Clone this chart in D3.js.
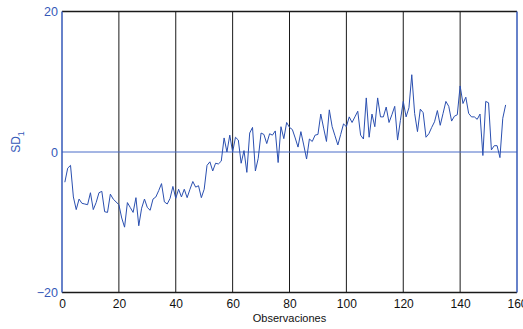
<!DOCTYPE html>
<html><head><meta charset="utf-8">
<script src="https://cdn.jsdelivr.net/npm/d3@7"></script>
<style>body{margin:0;background:#fff}svg{display:block}</style>
</head><body>
<script>
const xTicks = [0,20,40,60,80,100,120,140,160];
const yTicks = [-20,0,20];
const gridX = [20,40,60,80,100,120,140];
const values = [
-4.3,-2.3,-1.9,-6.4,-8.2,-6.7,-7.3,-7.4,-7.5,-5.8,
-8.2,-7.2,-5.8,-5.6,-8.5,-8.6,-6.0,-6.7,-7.1,-7.5,
-9.4,-10.7,-7.2,-7.9,-8.6,-6.5,-10.5,-8.0,-6.7,-7.9,
-8.3,-6.7,-6.4,-5.5,-4.5,-7.1,-7.4,-6.6,-4.9,-6.6,
-5.3,-6.4,-5.3,-6.5,-5.3,-4.2,-5.0,-4.8,-6.5,-5.3,
-1.9,-1.4,-2.7,-1.6,-1.7,-1.3,2.0,0.0,2.4,0.0,
2.1,1.7,-1.6,0.2,-2.9,2.7,3.5,-2.7,-0.9,2.7,
2.5,1.2,2.6,2.4,3.0,-1.5,3.6,1.9,4.2,3.5,
3.2,2.0,0.7,2.9,1.0,-1.0,1.85,1.5,2.4,2.5,
5.4,3.4,1.5,6.0,3.6,2.3,1.0,2.5,4.0,3.6,
5.0,4.2,5.0,5.8,2.4,1.85,7.7,2.1,5.4,3.6,
7.7,5.0,5.0,6.4,4.2,5.3,6.5,1.7,4.5,7.2,
5.0,6.3,11.0,5.5,2.9,6.1,5.6,2.1,2.6,3.5,
4.3,5.9,3.8,5.5,7.2,6.5,4.4,5.1,5.3,9.4,
6.9,7.8,5.5,5.0,5.0,4.65,5.4,-0.5,7.2,7.0,
0.3,0.9,0.9,-0.8,4.8,6.7
];
const obs = values.map((v,i)=>i+1);

const W=523,H=329;
const L=62,R=517,T=11.5,B=292.5;
const blue="#2a4fb0", axisBlue="#3558b8", dark="#1a1a1a";
const x=d3.scaleLinear().domain([0,160]).range([L,R]);
const y=d3.scaleLinear().domain([-20,20]).range([B,T]);

const svg=d3.select("body").append("svg").attr("width",W).attr("height",H)
  .style("font-family","'Liberation Sans', Arial, sans-serif");

svg.append("g").selectAll("line").data(gridX).join("line")
  .attr("x1",d=>x(d)).attr("x2",d=>x(d)).attr("y1",T).attr("y2",B)
  .attr("stroke",dark).attr("stroke-width",1);

svg.append("line").attr("x1",L).attr("x2",R).attr("y1",y(0)).attr("y2",y(0))
  .attr("stroke","#4a6cc8").attr("stroke-width",1);

svg.append("path").datum(values)
  .attr("d",d3.line().x((d,i)=>x(obs[i])).y(d=>y(d)))
  .attr("fill","none").attr("stroke",blue).attr("stroke-width",1);

svg.append("line").attr("x1",L).attr("x2",R).attr("y1",T).attr("y2",T).attr("stroke",dark).attr("stroke-width",1.5);
svg.append("line").attr("x1",L).attr("x2",R).attr("y1",B).attr("y2",B).attr("stroke",dark).attr("stroke-width",1.5);
svg.append("line").attr("x1",L).attr("x2",L).attr("y1",T).attr("y2",B).attr("stroke",axisBlue).attr("stroke-width",1.5);
svg.append("line").attr("x1",R).attr("x2",R).attr("y1",T).attr("y2",B).attr("stroke",axisBlue).attr("stroke-width",1.5);

const xa=d3.axisBottom(x).tickValues(xTicks).tickSize(0).tickPadding(7);
const gx=svg.append("g").attr("transform",`translate(0,${B})`).call(xa);
gx.select(".domain").remove();
gx.selectAll("text").attr("fill","#111").style("font-size","12px").style("font-family","'Liberation Sans', Arial, sans-serif");

const ya=d3.axisLeft(y).tickValues(yTicks).tickSize(0).tickPadding(4);
const gy=svg.append("g").attr("transform",`translate(${L},0)`).call(ya);
gy.select(".domain").remove();
gy.selectAll("text").attr("fill",axisBlue).style("font-size","12.5px").style("font-family","'Liberation Sans', Arial, sans-serif");

svg.append("text").attr("x",(L+R)/2).attr("y",322).attr("text-anchor","middle")
  .attr("fill","#111").style("font-size","11px").text("Observaciones");

const yl=svg.append("text").attr("transform",`translate(20,142) rotate(-90)`)
  .attr("text-anchor","middle").attr("fill",axisBlue).style("font-size","12px");
yl.append("tspan").text("SD");
yl.append("tspan").attr("dy",4).style("font-size","9px").text("1");
</script>
</body></html>
